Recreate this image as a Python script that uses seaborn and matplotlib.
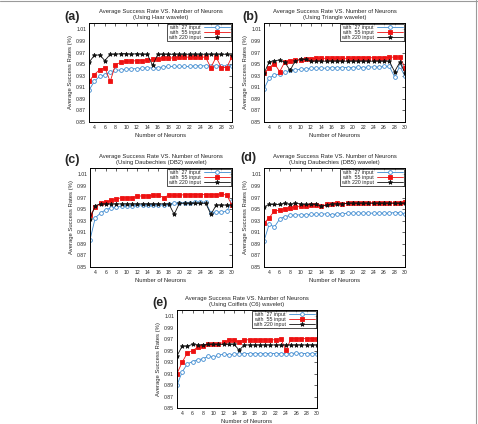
import pandas as pd
import matplotlib
matplotlib.use("Agg")
import matplotlib.pyplot as plt
import seaborn as sns
from matplotlib.lines import Line2D

neurons = list(range(3, 31))
inputs = ["with  27 input", "with  55 input", "with 220 input"]
wavelets = ["Haar", "Triangle", "Daubechies (DB2)", "Daubechies (DB5)", "Coiflets (C6)"]
letters = ["(a)", "(b)", "(c)", "(d)", "(e)"]

# (a) Haar
a27 = [0.905, 0.920, 0.929, 0.931, 0.937, 0.939, 0.940, 0.941, 0.942, 0.942, 0.943, 0.944, 0.943, 0.944,
       0.945, 0.946, 0.946, 0.946, 0.946, 0.946, 0.947, 0.947, 0.947, 0.947, 0.947, 0.947, 0.947, 0.947]
a55 = [0.920, 0.932, 0.940, 0.944, 0.920, 0.949, 0.953, 0.955, 0.955, 0.956, 0.956, 0.957, 0.958, 0.959,
       0.961, 0.960, 0.961, 0.962, 0.962, 0.962, 0.962, 0.962, 0.962, 0.944, 0.962, 0.944, 0.944, 0.963]
a220 = [0.953, 0.965, 0.966, 0.956, 0.967, 0.967, 0.968, 0.968, 0.967, 0.968, 0.967, 0.967, 0.948, 0.967,
        0.967, 0.967, 0.967, 0.967, 0.967, 0.967, 0.967, 0.967, 0.967, 0.967, 0.967, 0.967, 0.967, 0.965]

# (b) Triangle
b27 = [0.907, 0.926, 0.931, 0.933, 0.936, 0.939, 0.940, 0.941, 0.942, 0.943, 0.943, 0.943, 0.943, 0.944,
       0.944, 0.944, 0.944, 0.944, 0.945, 0.944, 0.945, 0.945, 0.945, 0.946, 0.946, 0.928, 0.946, 0.929]
b55 = [0.934, 0.944, 0.951, 0.937, 0.954, 0.956, 0.957, 0.957, 0.958, 0.959, 0.960, 0.960, 0.960, 0.960,
       0.960, 0.960, 0.960, 0.960, 0.961, 0.961, 0.961, 0.961, 0.961, 0.961, 0.962, 0.962, 0.962, 0.944]
b220 = [0.934, 0.954, 0.956, 0.957, 0.953, 0.939, 0.956, 0.958, 0.958, 0.955, 0.955, 0.955, 0.955, 0.955,
        0.955, 0.955, 0.955, 0.955, 0.955, 0.955, 0.955, 0.955, 0.955, 0.955, 0.955, 0.937, 0.953, 0.935]

# (c) DB2
c27 = [0.897, 0.935, 0.943, 0.949, 0.952, 0.953, 0.955, 0.956, 0.956, 0.957, 0.957, 0.957, 0.957, 0.957,
       0.957, 0.958, 0.960, 0.961, 0.961, 0.961, 0.962, 0.962, 0.962, 0.943, 0.945, 0.945, 0.946, 0.964]
c55 = [0.939, 0.953, 0.960, 0.962, 0.965, 0.967, 0.970, 0.969, 0.970, 0.972, 0.973, 0.973, 0.974, 0.974,
       0.970, 0.974, 0.974, 0.974, 0.975, 0.975, 0.975, 0.975, 0.975, 0.975, 0.975, 0.976, 0.974, 0.957]
c220 = [0.933, 0.956, 0.959, 0.959, 0.959, 0.959, 0.959, 0.959, 0.959, 0.959, 0.959, 0.959, 0.959, 0.959,
        0.959, 0.959, 0.941, 0.960, 0.960, 0.960, 0.960, 0.960, 0.960, 0.941, 0.957, 0.957, 0.957, 0.957]

# (d) DB5
d27 = [0.895, 0.924, 0.919, 0.933, 0.937, 0.939, 0.940, 0.940, 0.940, 0.941, 0.941, 0.941, 0.942, 0.940,
       0.942, 0.942, 0.943, 0.943, 0.943, 0.943, 0.943, 0.943, 0.943, 0.943, 0.943, 0.944, 0.944, 0.942]
d55 = [0.926, 0.935, 0.947, 0.948, 0.951, 0.952, 0.953, 0.955, 0.956, 0.957, 0.957, 0.955, 0.958, 0.959,
       0.960, 0.959, 0.960, 0.960, 0.960, 0.961, 0.961, 0.961, 0.960, 0.961, 0.961, 0.961, 0.961, 0.962]
d220 = [0.954, 0.958, 0.958, 0.958, 0.960, 0.958, 0.960, 0.959, 0.958, 0.958, 0.958, 0.955, 0.957, 0.959,
        0.959, 0.959, 0.960, 0.960, 0.960, 0.960, 0.960, 0.960, 0.960, 0.960, 0.960, 0.960, 0.960, 0.960]

# (e) C6
e27 = [0.890, 0.913, 0.927, 0.931, 0.934, 0.936, 0.940, 0.939, 0.942, 0.944, 0.943, 0.944, 0.945, 0.945,
       0.945, 0.945, 0.945, 0.945, 0.945, 0.945, 0.945, 0.945, 0.945, 0.946, 0.945, 0.945, 0.945, 0.945]
e55 = [0.910, 0.930, 0.946, 0.950, 0.956, 0.958, 0.961, 0.961, 0.961, 0.965, 0.968, 0.968, 0.966, 0.969,
       0.969, 0.969, 0.969, 0.969, 0.969, 0.969, 0.971, 0.951, 0.971, 0.971, 0.971, 0.971, 0.971, 0.971]
e220 = [0.941, 0.958, 0.958, 0.961, 0.960, 0.960, 0.961, 0.961, 0.961, 0.961, 0.961, 0.961, 0.951, 0.960,
        0.960, 0.960, 0.960, 0.960, 0.960, 0.960, 0.960, 0.960, 0.960, 0.960, 0.960, 0.960, 0.960, 0.960]

series = [(a27, a55, a220), (b27, b55, b220), (c27, c55, c220), (d27, d55, d220), (e27, e55, e220)]

rows = []
for w, trio in zip(wavelets, series):
    for lab, vals in zip(inputs, trio):
        for n, v in zip(neurons, vals):
            rows.append({"Wavelet": w, "Input": lab, "Neurons": n, "Rate": v})
data = pd.DataFrame(rows)

sns.set_style("white")
plt.rcParams["font.family"] = ["Liberation Sans", "DejaVu Sans"]

colors = {inputs[0]: "#3d8ad0", inputs[1]: "#ee1111", inputs[2]: "#111111"}
marks = {inputs[0]: "o", inputs[1]: "s", inputs[2]: "*"}
msize = {inputs[0]: 2.7, inputs[1]: 2.5, inputs[2]: 3.2}

# axes boxes in pixels (left, top, right, bottom)
boxes = [(89, 23, 232, 122), (264, 23, 405, 122), (90, 168, 232, 267),
         (264, 168, 405, 267), (177, 310, 317, 408)]
letter_pos = [(72, 17), (250, 17), (72, 160), (248, 158), (160, 303)]

W, H = 478, 424
fig = plt.figure(figsize=(W / 100, H / 100), dpi=100)

for i, w in enumerate(wavelets):
    l, t, r, b = boxes[i]
    ax = fig.add_axes([l / W, 1 - b / H, (r - l) / W, (b - t) / H])
    sub = data[data["Wavelet"] == w]
    for lab in inputs:
        d = sub[sub["Input"] == lab]
        sns.lineplot(data=d, x="Neurons", y="Rate", color=colors[lab], marker=marks[lab],
                     markersize=msize[lab], linewidth=0.6, label=lab, ax=ax,
                     markerfacecolor="white" if lab == inputs[0] else colors[lab],
                     markeredgecolor=colors[lab], markeredgewidth=0.6)
    ax.set_xlim(3, 30)
    ax.set_ylim(0.85, 1.021)
    ax.set_xticks(range(4, 31, 2))
    ax.set_yticks([0.85 + 0.02 * k for k in range(9)])
    ax.set_yticklabels(["%.2f" % (0.85 + 0.02 * k) for k in range(9)])
    ax.tick_params(direction="in", length=2, width=0.5, labelsize=3.7, pad=2,
                   top=True, right=True)
    for s in ax.spines.values():
        s.set_linewidth(0.7)
        s.set_color("black")
    ax.set_xlabel("Number of Neurons", fontsize=4.2, labelpad=2)
    ax.set_ylabel("Average Success Rates (%)", fontsize=4.2, labelpad=2)
    ax.set_title("Average Success Rate VS. Number of Neurons\n(Using %s wavelet)" % w,
                 fontsize=4.2, pad=3, linespacing=1.2)
    leg = ax.legend(loc="upper right", markerfirst=False, fontsize=3.8, frameon=True,
                    fancybox=False, borderaxespad=0.1, handlelength=5.0, handletextpad=0.6,
                    borderpad=0.2, labelspacing=0.05)
    leg.get_frame().set_edgecolor("black")
    leg.get_frame().set_linewidth(0.6)
    for t_ in leg.get_texts():
        t_.set_ha("right")
    lx, ly = letter_pos[i]
    fig.text(lx / W, 1 - ly / H, letters[i], fontsize=9, fontweight="bold",
             ha="center", va="center")

# thin grey frame round the figure
fig.add_artist(Line2D([0, 1], [0.998, 0.998], transform=fig.transFigure, color="#9a9a9a", lw=0.8))
fig.add_artist(Line2D([0.996, 0.996], [0, 1], transform=fig.transFigure, color="#9a9a9a", lw=0.8))

fig.savefig("out.png", dpi=100)
